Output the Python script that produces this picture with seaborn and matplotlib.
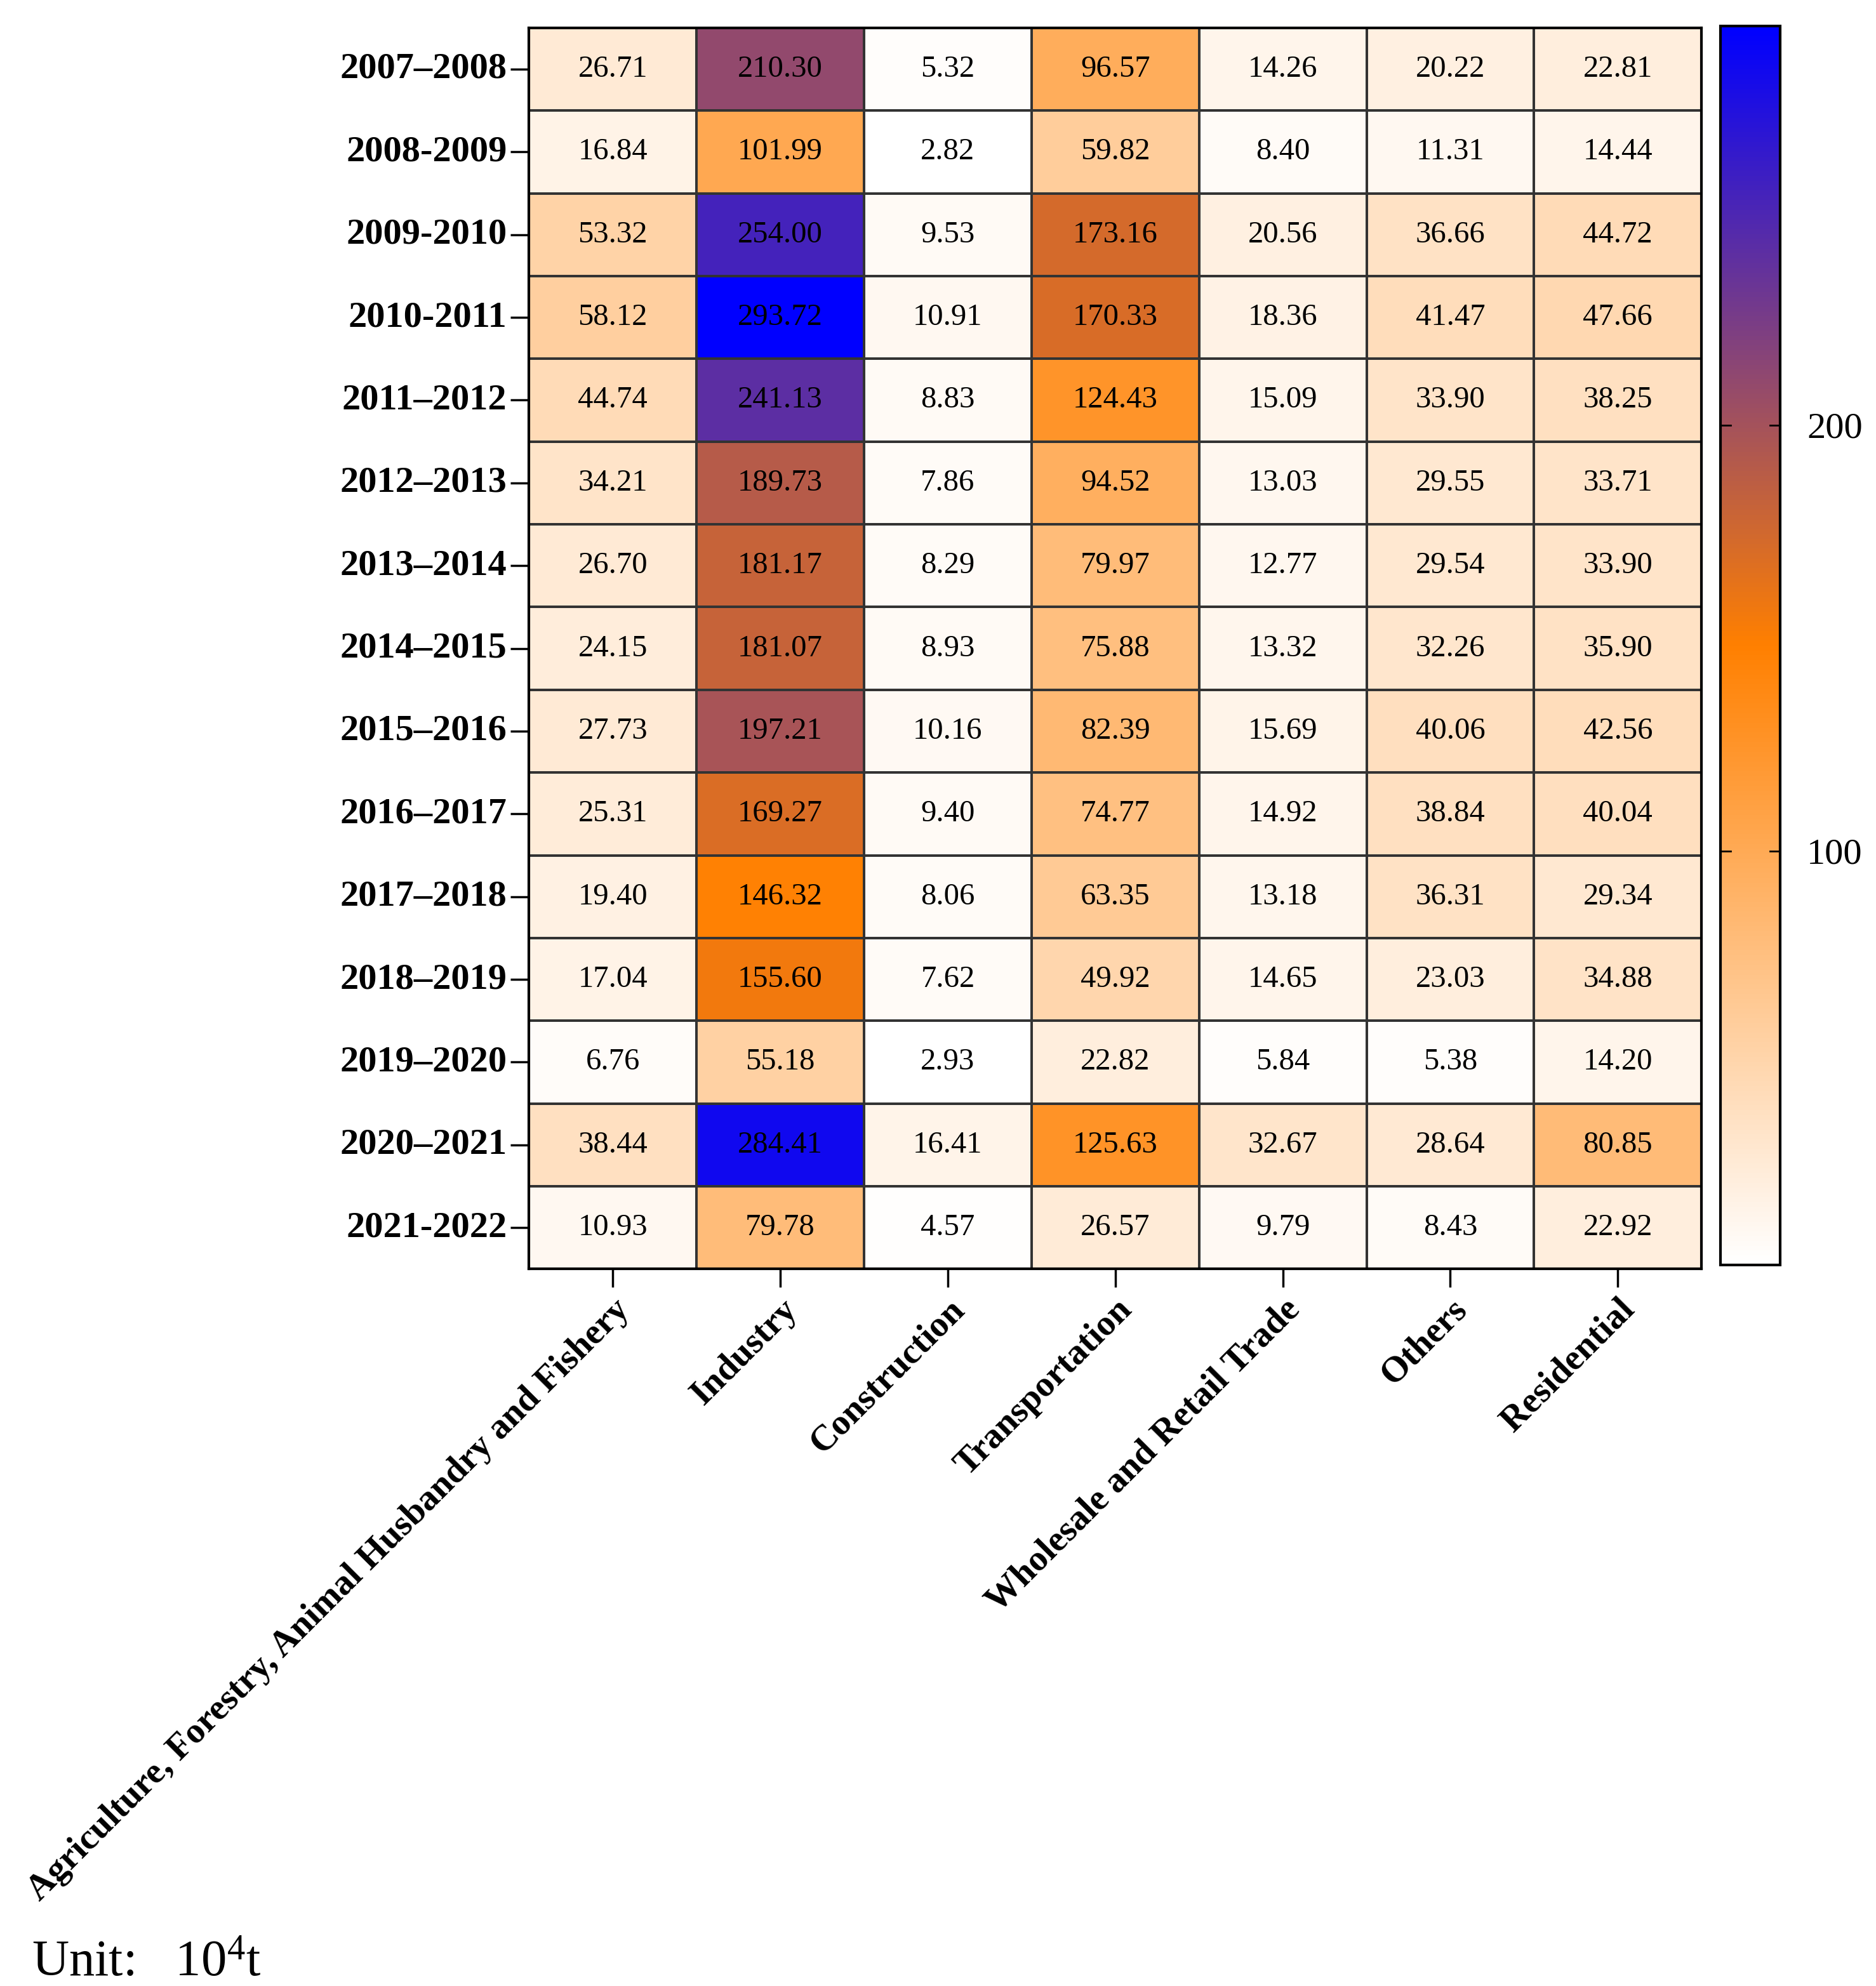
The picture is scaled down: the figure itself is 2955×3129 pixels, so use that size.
import numpy as np
import pandas as pd
import matplotlib
matplotlib.use("Agg")
import matplotlib.pyplot as plt
from matplotlib.colors import LinearSegmentedColormap
import seaborn as sns

plt.rcParams["font.family"] = ["Liberation Serif", "DejaVu Serif"]
plt.rcParams["mathtext.fontset"] = "custom"
plt.rcParams["mathtext.rm"] = "Liberation Serif"

periods = ["2007–2008", "2008-2009", "2009-2010", "2010-2011", "2011–2012",
           "2012–2013", "2013–2014", "2014–2015", "2015–2016", "2016–2017",
           "2017–2018", "2018–2019", "2019–2020", "2020–2021", "2021-2022"]

sectors = ["Agriculture, Forestry, Animal Husbandry and Fishery", "Industry",
           "Construction", "Transportation", "Wholesale and Retail Trade",
           "Others", "Residential"]

agriculture = [26.71, 16.84, 53.32, 58.12, 44.74, 34.21, 26.70, 24.15, 27.73, 25.31, 19.40, 17.04, 6.76, 38.44, 10.93]
industry = [210.30, 101.99, 254.00, 293.72, 241.13, 189.73, 181.17, 181.07, 197.21, 169.27, 146.32, 155.60, 55.18, 284.41, 79.78]
construction = [5.32, 2.82, 9.53, 10.91, 8.83, 7.86, 8.29, 8.93, 10.16, 9.40, 8.06, 7.62, 2.93, 16.41, 4.57]
transportation = [96.57, 59.82, 173.16, 170.33, 124.43, 94.52, 79.97, 75.88, 82.39, 74.77, 63.35, 49.92, 22.82, 125.63, 26.57]
wholesale = [14.26, 8.40, 20.56, 18.36, 15.09, 13.03, 12.77, 13.32, 15.69, 14.92, 13.18, 14.65, 5.84, 32.67, 9.79]
others = [20.22, 11.31, 36.66, 41.47, 33.90, 29.55, 29.54, 32.26, 40.06, 38.84, 36.31, 23.03, 5.38, 28.64, 8.43]
residential = [22.81, 14.44, 44.72, 47.66, 38.25, 33.71, 33.90, 35.90, 42.56, 40.04, 29.34, 34.88, 14.20, 80.85, 22.92]

cbar_ticks = [100, 200]

df = pd.DataFrame(
    np.column_stack([agriculture, industry, construction, transportation,
                     wholesale, others, residential]),
    index=periods, columns=sectors)

cmap = LinearSegmentedColormap.from_list(
    "wob", [(0.0, "#ffffff"), (0.5, "#ff8000"), (1.0, "#0000ff")])

fig = plt.figure(figsize=(29.55, 31.29), dpi=100)
ax = fig.add_axes([0.282, 0.361, 0.625, 0.625])
cax = fig.add_axes([0.917, 0.363, 0.032, 0.624])

sns.heatmap(df, ax=ax, cbar_ax=cax, cmap=cmap, annot=True, fmt=".2f",
            annot_kws={"fontsize": 35, "color": "black"},
            linewidths=1.5, linecolor="#333333")

# frame around the grid
for s in ax.spines.values():
    s.set_visible(True)
    s.set_linewidth(3)
    s.set_color("black")

ax.tick_params(axis="both", direction="out", length=21, width=2.5, color="black")
ax.tick_params(axis="y", pad=4)
ax.tick_params(axis="x", pad=6)
ax.set_yticklabels(periods, rotation=0, fontsize=42, fontweight="bold")
ax.set_xticklabels(sectors, rotation=45, ha="right", rotation_mode="anchor",
                   fontsize=41, fontweight="bold")
ax.set_xlabel("")
ax.set_ylabel("")

# colorbar: short inward marks on both edges, labels on the right
cbar = ax.collections[0].colorbar
cbar.set_ticks(cbar_ticks)
cbar.ax.tick_params(length=0, labelsize=42, pad=30)
for t in cbar_ticks:
    cbar.ax.axhline(t, xmin=0, xmax=0.17, color="black", lw=2)
    cbar.ax.axhline(t, xmin=0.83, xmax=1, color="black", lw=2)
cbar.outline.set_visible(True)
cbar.outline.set_linewidth(3)
cbar.outline.set_edgecolor("black")

fig.text(0.017, 0.005, r"Unit:   $\mathregular{10^4}$t", fontsize=58,
         va="baseline", ha="left")

fig.savefig("out.png", dpi=100)
